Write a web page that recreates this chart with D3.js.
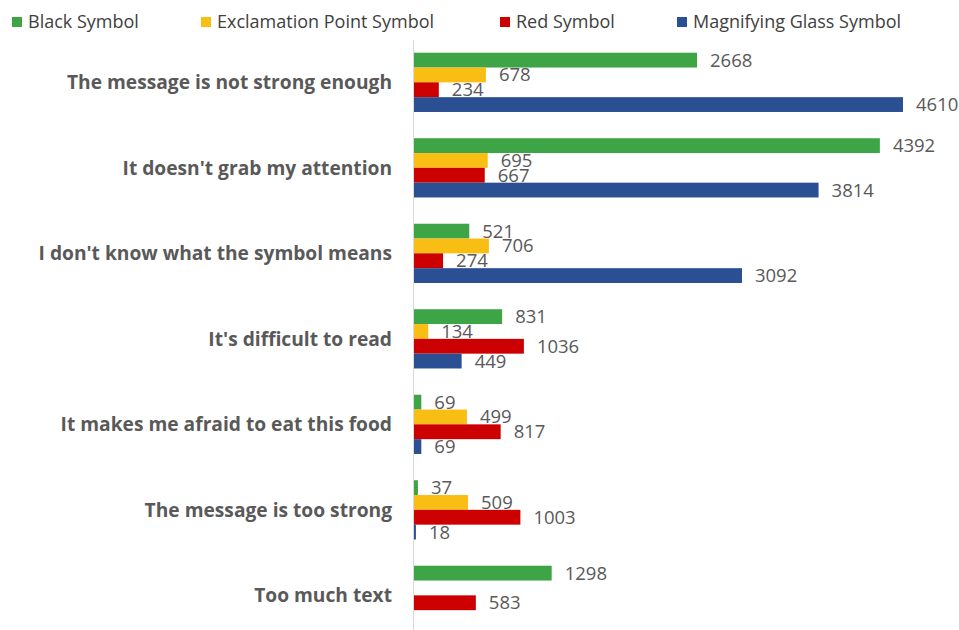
<!DOCTYPE html>
<html>
<head>
<meta charset="utf-8">
<script src="https://cdn.jsdelivr.net/npm/d3@7"></script>
<style>
  html, body { margin: 0; padding: 0; background: #fff; }
  svg { display: block; }
</style>
</head>
<body>
<script>
// Reasons respondents gave, one group of bars per reason
const categories = [
  "The message is not strong enough",
  "It doesn't grab my attention",
  "I don't know what the symbol means",
  "It's difficult to read",
  "It makes me afraid to eat this food",
  "The message is too strong",
  "Too much text"
];
const seriesNames = ["Black Symbol", "Exclamation Point Symbol", "Red Symbol", "Magnifying Glass Symbol"];
const seriesColors = ["#3EA546", "#F8BE14", "#CC0000", "#2A5093"];
const blackSymbol       = [2668, 4392, 521, 831, 69, 37, 1298];
const exclamationSymbol = [678, 695, 706, 134, 499, 509, null];
const redSymbol         = [234, 667, 274, 1036, 817, 1003, 583];
const magnifyingSymbol  = [4610, 3814, 3092, 449, 69, 18, null];
const seriesValues = [blackSymbol, exclamationSymbol, redSymbol, magnifyingSymbol];

const W = 959, H = 630;
const svg = d3.select("body").append("svg").attr("width", W).attr("height", H);

const x = d3.scaleLinear().domain([0, 4610]).range([414, 903]);
const y = d3.scaleBand().domain(categories).range([39.6, 638.1]).paddingInner(0.307).paddingOuter(0.1535);
const ySub = d3.scaleBand().domain(d3.range(seriesNames.length)).range([0, y.bandwidth()]);

// Category axis line
svg.append("line")
  .attr("x1", x(0) - 0.5).attr("x2", x(0) - 0.5)
  .attr("y1", 40).attr("y2", H)
  .attr("stroke", "#d9d9d9").attr("stroke-width", 1);

// Bars
const rows = categories.map((c, i) => ({
  cat: c,
  vals: seriesValues.map((s, k) => ({ k, v: s[i] }))
}));

const groups = svg.append("g").selectAll("g").data(rows).join("g")
  .attr("transform", d => `translate(0,${y(d.cat)})`);

groups.selectAll("rect").data(d => d.vals.filter(e => e.v != null)).join("rect")
  .attr("x", x(0))
  .attr("y", e => ySub(e.k))
  .attr("width", e => x(e.v) - x(0))
  .attr("height", ySub.bandwidth())
  .attr("fill", e => seriesColors[e.k]);

// Value labels
groups.selectAll("text").data(d => d.vals.filter(e => e.v != null)).join("text")
  .attr("x", e => x(e.v) + 13)
  .attr("y", e => ySub(e.k) + ySub.bandwidth() / 2)
  .attr("dy", "0.35em")
  .attr("font-family", "'Open Sans', sans-serif")
  .attr("font-size", 18.5)
  .attr("fill", "#595959")
  .text(e => e.v);

// Category labels
svg.append("g").selectAll("text").data(categories).join("text")
  .attr("x", 392)
  .attr("y", c => y(c) + y.bandwidth() / 2)
  .attr("dy", "0.35em")
  .attr("text-anchor", "end")
  .attr("font-family", "'Open Sans', sans-serif")
  .attr("font-weight", "bold")
  .attr("font-size", 19.2)
  .attr("fill", "#595959")
  .text(c => c);

// Legend
const legendX = [12, 201, 500, 677];
const legend = svg.append("g").selectAll("g").data(seriesNames).join("g")
  .attr("transform", (d, i) => `translate(${legendX[i]},17)`);
legend.append("rect").attr("width", 10).attr("height", 10).attr("y", 0)
  .attr("fill", (d, i) => seriesColors[i]);
legend.append("text").attr("x", 16).attr("y", 5).attr("dy", "0.35em")
  .attr("font-family", "'Open Sans', sans-serif")
  .attr("font-size", 18)
  .attr("fill", "#404040")
  .text(d => d);
</script>
</body>
</html>
